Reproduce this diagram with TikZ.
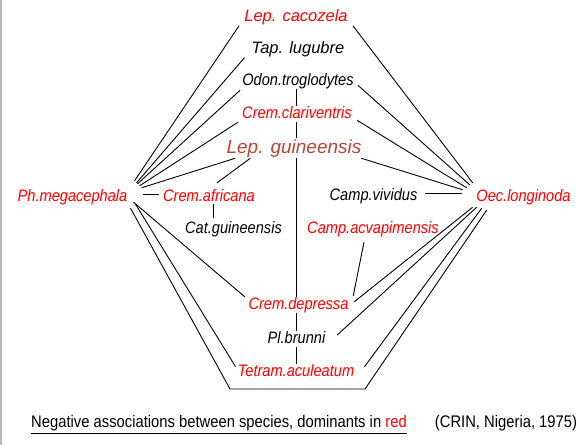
\documentclass[tikz,border=0pt]{standalone}
\usepackage{fontspec}
\setmainfont{Liberation Sans}
\newfontfamily\narrowsans[FakeStretch=0.88]{Liberation Sans}
\usepackage{xcolor}
\usetikzlibrary{arrows,positioning}
\definecolor{dominant}{RGB}{255,0,0}
\definecolor{dominant dark}{RGB}{181,70,58}
\tikzset{
    species/.style={anchor=base, inner sep=1pt, font=\narrowsans\fontsize{16.6}{18}\selectfont\itshape, text height=11pt, text depth=3pt},
    dominant species/.style={species, text=dominant},
    big species/.style={species, font=\fontsize{16.5}{18}\selectfont\itshape, text height=12.5pt, text depth=3.5pt},
    huge species/.style={species, font=\fontsize{19}{21}\selectfont\itshape, text height=14pt, text depth=4pt},
    caption/.style={anchor=base, inner sep=0pt, font=\narrowsans\fontsize{16.8}{18}\selectfont},
    link/.style={line width=0.9pt}
}

\begin{document}
\begin{tikzpicture}[x=1pt, y=-1pt]
    \useasboundingbox (0,0) rectangle (585,445);
    \draw[gray!55, line width=2pt] (1,0) -- (1,445);
    % middle column
    \node[big species, text=dominant] (cacozela) at (296,21) {Lep. cacozela};
    \node[big species] (lugubre) at (298,53) {Tap. lugubre};
    \node[species] (odon) at (298,85) {Odon.troglodytes};
    \node[dominant species] (clariv) at (297,118) {Crem.clariventris};
    \node[huge species, text=dominant dark] (lepg) at (294,153) {Lep. guineensis};
    \node[dominant species] (depr) at (298.5,309) {Crem.depressa};
    \node[species] (brunni) at (296.5,343) {Pl.brunni};
    \node[dominant species] (tetram) at (296,376) {Tetram.aculeatum};
    % the two sides
    \node[dominant species] (ph) at (72.5,201) {Ph.megacephala};
    \node[dominant species] (afric) at (209,201) {Crem.africana};
    \node[species] (catg) at (233.5,233) {Cat.guineensis};
    \node[species] (vivid) at (373.5,200) {Camp.vividus};
    \node[dominant species] (acva) at (373,233) {Camp.acvapimensis};
    \node[dominant species] (oec) at (523.5,201) {Oec.longinoda};
    \coordinate (bl) at (230,389);
    \coordinate (br) at (365,389);
    \path[draw, link]
        ([shift={(-4,0)}]cacozela.south west) edge ([shift={(6,-8)}]ph.north east)
        ([shift={(-6,0)}]lugubre.south west) edge ([shift={(8,-6)}]ph.north east)
        ([shift={(-1,1)}]odon.south west) edge ([shift={(9,-5)}]ph.north east)
        ([shift={(-3,0)}]clariv.south west) edge ([shift={(11,-3)}]ph.north east)
        ([shift={(10,0)}]lepg.south west) edge ([shift={(13,-1)}]ph.north east)
        ([shift={(25,0)}]lepg.south west) edge ([shift={(8,-6)}]afric.north)
        ([shift={(14,-3)}]ph.east) edge ([shift={(-3,-3)}]afric.west)
        ([shift={(4,-1)}]afric.south) edge ([shift={(-20.5,-3)}]catg.north)
        ([shift={(4,0)}]cacozela.south east) edge ([shift={(-2.5,-6)}]oec.north west)
        ([shift={(3,-4)}]odon.south east) edge ([shift={(-5.5,-4)}]oec.north west)
        ([shift={(4,-2)}]clariv.south east) edge ([shift={(-8.5,-1)}]oec.north west)
        ([shift={(-1.5,0)}]lepg.south east) edge ([shift={(-12.5,1)}]oec.north west)
        ([shift={(6.7,-3)}]vivid.east) edge ([shift={(-13.5,-4)}]oec.west)
        ([shift={(-2.5,2)}]oec.south west) edge ([shift={(4.6,5)}]depr.north east)
        ([shift={(1.5,2)}]oec.south west) edge ([shift={(10.7,-4)}]brunni.east)
        ([shift={(6.5,3)}]oec.south west) edge ([shift={(9,3)}]tetram.north east)
        ([shift={(-9,5)}]acva.south) edge ([shift={(3.6,-1)}]depr.north east)
        ([shift={(5,-3)}]ph.south east) edge ([shift={(-2.6,0)}]depr.north west)
        ([shift={(7,-1)}]ph.south east) edge ([shift={(-1,3)}]tetram.north west)
        ;
    \draw[link] ([shift={(2,3)}]ph.south east) -- (bl) -- (br) -- ([shift={(11.5,5)}]oec.south west);
    \draw[link] (tetram |- odon.south) -- (tetram |- clariv.north)
        (tetram |- clariv.south) -- (tetram |- lepg.north)
        (tetram |- lepg.south) -- (tetram |- depr.north)
        (tetram |- depr.south) -- (tetram |- brunni.north)
        (tetram |- brunni.south) -- (tetram.north);
    % caption line
    \node[caption] (note) at (219,427) {Negative associations between species, dominants in \textcolor{dominant}{red}};
    \node[caption] (source) at (506,427) {(CRIN, Nigeria, 1975)};
    \draw[line width=0.9pt] ([yshift=-6pt]note.base west) -- ([yshift=-6pt]note.base east);
\end{tikzpicture}
\end{document}
